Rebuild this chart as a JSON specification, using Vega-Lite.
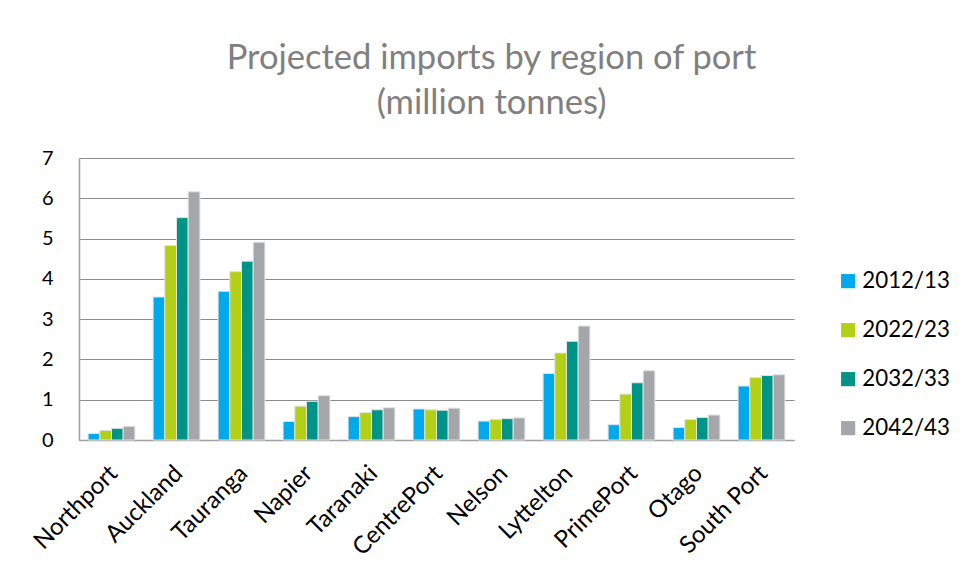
{
  "$schema": "https://vega.github.io/schema/vega-lite/v6.json",
  "autosize": "none",
  "width": 715,
  "height": 282,
  "padding": {"left": 79, "top": 158, "right": 169, "bottom": 132},
  "background": "white",
  "title": {
    "text": ["Projected imports by region of port", "(million tonnes)"],
    "anchor": "middle",
    "dx": 55,
    "offset": 27,
    "font": "Lato",
    "fontSize": 34.5,
    "fontWeight": "normal",
    "color": "#808080",
    "lineHeight": 45
  },
  "data": {
    "values": [
      {"port": "Northport", "year": "2012/13", "value": 0.16},
      {"port": "Northport", "year": "2022/23", "value": 0.24},
      {"port": "Northport", "year": "2032/33", "value": 0.29},
      {"port": "Northport", "year": "2042/43", "value": 0.34},
      {"port": "Auckland", "year": "2012/13", "value": 3.55},
      {"port": "Auckland", "year": "2022/23", "value": 4.83},
      {"port": "Auckland", "year": "2032/33", "value": 5.52},
      {"port": "Auckland", "year": "2042/43", "value": 6.16},
      {"port": "Tauranga", "year": "2012/13", "value": 3.69},
      {"port": "Tauranga", "year": "2022/23", "value": 4.18},
      {"port": "Tauranga", "year": "2032/33", "value": 4.44},
      {"port": "Tauranga", "year": "2042/43", "value": 4.91},
      {"port": "Napier", "year": "2012/13", "value": 0.46},
      {"port": "Napier", "year": "2022/23", "value": 0.84},
      {"port": "Napier", "year": "2032/33", "value": 0.96},
      {"port": "Napier", "year": "2042/43", "value": 1.1},
      {"port": "Taranaki", "year": "2012/13", "value": 0.58},
      {"port": "Taranaki", "year": "2022/23", "value": 0.68},
      {"port": "Taranaki", "year": "2032/33", "value": 0.75},
      {"port": "Taranaki", "year": "2042/43", "value": 0.8},
      {"port": "CentrePort", "year": "2012/13", "value": 0.77},
      {"port": "CentrePort", "year": "2022/23", "value": 0.75},
      {"port": "CentrePort", "year": "2032/33", "value": 0.74},
      {"port": "CentrePort", "year": "2042/43", "value": 0.79},
      {"port": "Nelson", "year": "2012/13", "value": 0.47},
      {"port": "Nelson", "year": "2022/23", "value": 0.51},
      {"port": "Nelson", "year": "2032/33", "value": 0.53},
      {"port": "Nelson", "year": "2042/43", "value": 0.55},
      {"port": "Lyttelton", "year": "2012/13", "value": 1.65},
      {"port": "Lyttelton", "year": "2022/23", "value": 2.16},
      {"port": "Lyttelton", "year": "2032/33", "value": 2.45},
      {"port": "Lyttelton", "year": "2042/43", "value": 2.83},
      {"port": "PrimePort", "year": "2012/13", "value": 0.38},
      {"port": "PrimePort", "year": "2022/23", "value": 1.14},
      {"port": "PrimePort", "year": "2032/33", "value": 1.42},
      {"port": "PrimePort", "year": "2042/43", "value": 1.72},
      {"port": "Otago", "year": "2012/13", "value": 0.31},
      {"port": "Otago", "year": "2022/23", "value": 0.51},
      {"port": "Otago", "year": "2032/33", "value": 0.56},
      {"port": "Otago", "year": "2042/43", "value": 0.62},
      {"port": "South Port", "year": "2012/13", "value": 1.34},
      {"port": "South Port", "year": "2022/23", "value": 1.55},
      {"port": "South Port", "year": "2032/33", "value": 1.6},
      {"port": "South Port", "year": "2042/43", "value": 1.62}
    ]
  },
  "mark": {"type": "bar", "stroke": "#e2e2e2", "strokeWidth": 1},
  "encoding": {
    "x": {
      "field": "port",
      "type": "nominal",
      "sort": null,
      "title": null,
      "scale": {"paddingInner": 0.28, "paddingOuter": 0.14},
      "axis": {
        "labelAngle": -45,
        "labelFont": "Lato",
        "labelFontSize": 24,
        "labelColor": "black",
        "labelPadding": 21,
        "labelOffset": -6,
        "ticks": false,
        "domainColor": "#a0a0a0",
        "domainWidth": 1.5
      }
    },
    "xOffset": {"field": "year", "type": "nominal"},
    "y": {
      "field": "value",
      "type": "quantitative",
      "title": null,
      "scale": {"domain": [0, 7], "nice": false},
      "axis": {
        "values": [0, 1, 2, 3, 4, 5, 6, 7],
        "labelFont": "Lato",
        "labelFontSize": 20,
        "labelColor": "black",
        "labelPadding": 26,
        "ticks": false,
        "grid": true,
        "gridColor": "#8c8c8c",
        "gridWidth": 1.2,
        "domainColor": "#a0a0a0",
        "domainWidth": 1.5
      }
    },
    "color": {
      "field": "year",
      "type": "nominal",
      "title": null,
      "scale": {
        "domain": ["2012/13", "2022/23", "2032/33", "2042/43"],
        "range": ["#00a8ec", "#b3d016", "#009488", "#a5a6a9"]
      },
      "legend": {
        "orient": "none",
        "legendX": 758,
        "legendY": 112,
        "symbolType": "square",
        "symbolSize": 200,
        "symbolStrokeWidth": 0,
        "labelFont": "Lato",
        "labelFontSize": 22.3,
        "labelColor": "black",
        "labelOffset": 3,
        "rowPadding": 26
      }
    }
  },
  "config": {"view": {"stroke": null}}
}
